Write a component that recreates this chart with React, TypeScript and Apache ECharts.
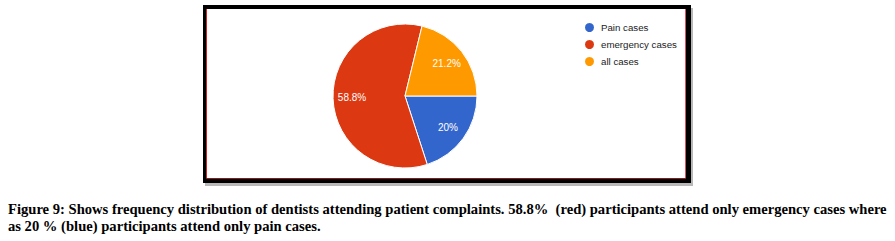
import React, { useEffect, useRef } from "react";
import * as echarts from "echarts";

const categories = ["Pain cases", "emergency cases", "all cases"];
const values = [20, 58.8, 21.2];
const colors = ["#3366cc", "#dc3912", "#ff9900"];
const captionLines = [
  "Figure 9: Shows frequency distribution of dentists attending patient complaints. 58.8%  (red) participants attend only emergency cases where",
  "as 20 % (blue) participants attend only pain cases.",
];

export default function App() {
  const ref = useRef<HTMLDivElement>(null);
  useEffect(() => {
    if (!ref.current) return;
    const chart = echarts.init(ref.current, null, { renderer: "svg" });
    const data = categories.map((name, i) => ({ name, value: values[i], itemStyle: { color: colors[i] } }));
    chart.setOption({
      animation: false,
      backgroundColor: "#ffffff",
      legend: {
        orient: "vertical",
        left: 583,
        top: 21,
        padding: 0,
        icon: "circle",
        itemWidth: 11,
        itemHeight: 11,
        itemGap: 4,
        textStyle: { fontSize: 9.7, color: "#222222", fontFamily: "Liberation Sans, Arial, sans-serif", padding: [0, 0, 0, 1] },
        data: categories.map((name, i) => ({ name, itemStyle: { color: colors[i] } })),
      },
      graphic: [
        { type: "rect", shape: { x: 205, y: 8, width: 488, height: 178 }, style: { fill: "#b8b8b8" }, z: -10 },
        { type: "rect", shape: { x: 203, y: 5, width: 488, height: 178 }, style: { fill: "#000000" }, z: -9 },
        { type: "rect", shape: { x: 207, y: 9, width: 478, height: 169 }, style: { fill: "#ffffff" }, z: -8 },
        { type: "line", shape: { x1: 206.5, y1: 9, x2: 206.5, y2: 178.5 }, style: { stroke: "#d42020", lineWidth: 1 }, z: -7 },
        { type: "line", shape: { x1: 685.5, y1: 9, x2: 685.5, y2: 178.5 }, style: { stroke: "#e05060", lineWidth: 1 }, z: -7 },
        { type: "line", shape: { x1: 206.5, y1: 178.5, x2: 685.5, y2: 178.5 }, style: { stroke: "#8b1a1a", lineWidth: 1 }, z: -7 },
        {
          type: "text",
          left: 8,
          top: 200,
          style: {
            text: captionLines.join("\n"),
            font: "bold 14.6px 'Liberation Serif', 'Times New Roman', serif",
            fill: "#000000",
            lineHeight: 17,
          },
        },
      ],
      series: [
        {
          type: "pie",
          center: [405, 96],
          radius: [0, 72],
          startAngle: 0,
          clockwise: true,
          label: { show: false },
          labelLine: { show: false },
          itemStyle: { borderColor: "#ffffff", borderWidth: 1 },
          emphasis: { disabled: true },
          data,
        },
        {
          type: "pie",
          center: [405, 96],
          radius: [28, 72],
          startAngle: 0,
          clockwise: true,
          silent: true,
          label: {
            show: true,
            position: "inside",
            formatter: (p: any) => p.value + "%",
            color: "#ffffff",
            fontSize: 10,
            fontFamily: "Liberation Sans, Arial, sans-serif",
          },
          labelLine: { show: false },
          itemStyle: { color: "transparent" },
          emphasis: { disabled: true },
          data: categories.map((name, i) => ({ name, value: values[i], itemStyle: { color: "transparent" } })),
        },
      ],
    });
    return () => chart.dispose();
  }, []);
  return <div ref={ref} style={{ position: "absolute", left: 0, top: 0, width: 895, height: 241 }} />;
}
